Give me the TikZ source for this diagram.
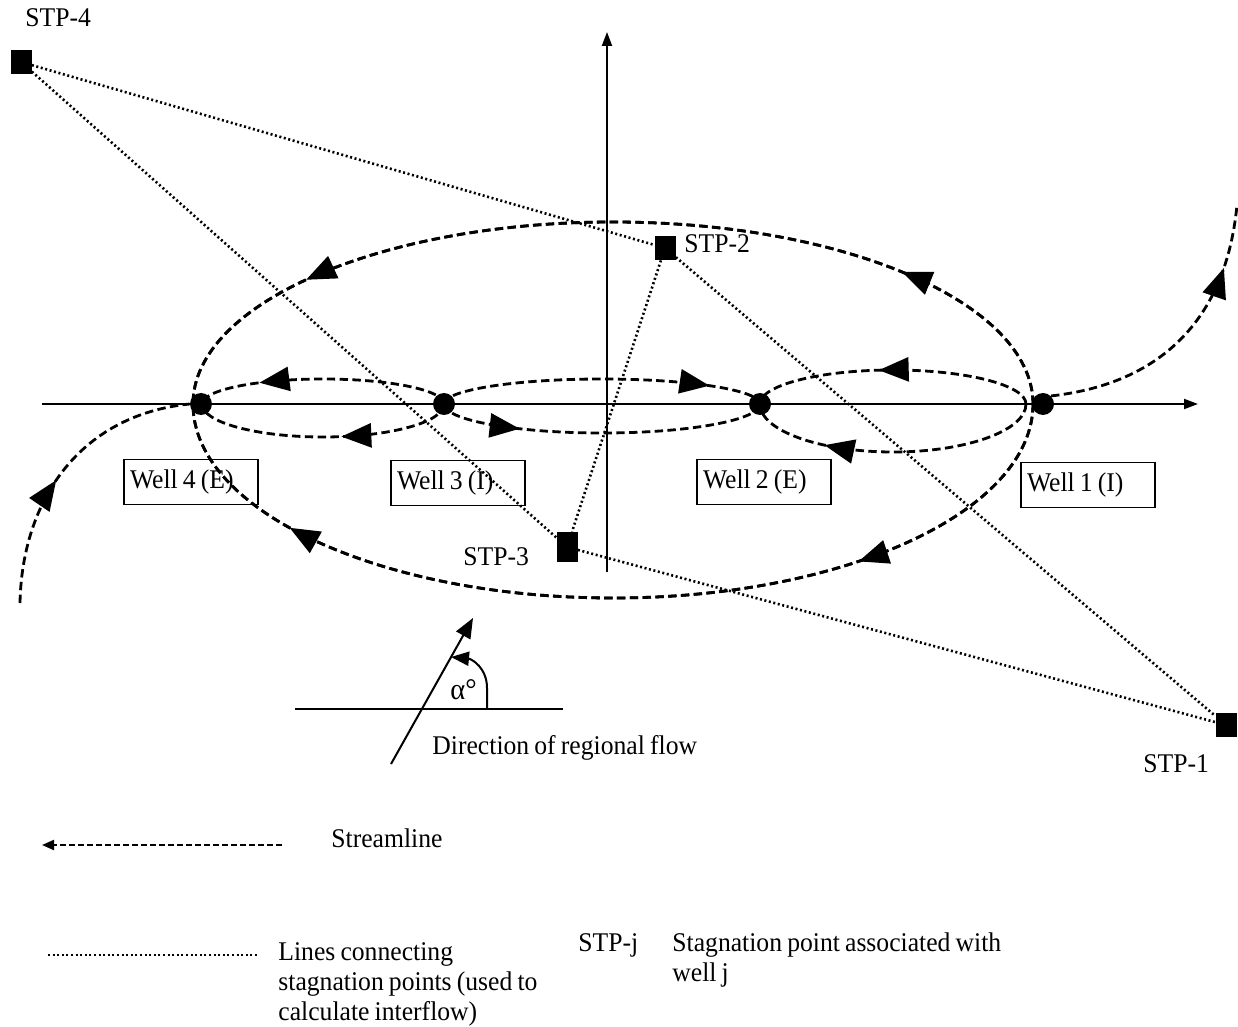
\documentclass[tikz,border=0pt]{standalone}
\usepackage{fontspec}
\setmainfont{Liberation Serif}[FakeStretch=0.95, WordSpace=0.8]
\usetikzlibrary{arrows.meta}
\usetikzlibrary{decorations.markings}
\usetikzlibrary{positioning}

\tikzset{
    stream/.style = {line width=1.4pt, dash pattern=on 4.2pt off 2.2pt},
    link/.style = {line width=1.3pt, dash pattern=on 1pt off 1.3pt},
    axis/.style = {line width=1pt, -{Triangle[length=7pt,width=5pt]}},
    well/.style = {circle, fill, inner sep=0pt, minimum size=11pt},
    stp/.style = {rectangle, fill, inner sep=0pt, minimum width=10.5pt, minimum height=12pt},
    wellbox/.style = {draw, line width=0.9pt, text width=61pt, align=flush left,
                      inner xsep=3pt, minimum height=22.5pt},
    flowmark/.style = {postaction={decorate}, decoration={markings,
        mark=at position #1 with {\arrow{Triangle[length=15pt,width=12pt]}}}},
    lbl/.style = {anchor=base west, inner sep=0pt},
}

\begin{document}
\begin{tikzpicture}[x=0.5pt, y=-0.5pt, font=\fontsize{13.5}{15}\selectfont]
    \useasboundingbox (0,0) rectangle (1238,1027);

    % axes
    \draw[axis] (42,404) -- (1198,404);
    \draw[axis] (607,572) -- (607,32);

    % wells and their boxes
    \node[well] (w4) at (201,404) {};
    \node[well] (w3) at (444,404) {};
    \node[well] (w2) at (760,404) {};
    \node[well] (w1) at (1043,404) {};
    \node[wellbox] (b4) at (191,482) {Well 4 (E)};
    \node[wellbox] (b3) at (458,483) {Well 3 (I)};
    \node[wellbox] (b2) at (764,482) {Well 2 (E)};
    \node[wellbox] (b1) at (1088,485) {Well 1 (I)};

    % stagnation points
    \node[stp] (s4) at (21,62) {};
    \node[stp] (s2) at (665,248) {};
    \node[stp, minimum height=15pt] (s3) at (567,547) {};
    \node[stp] (s1) at (1226,725) {};
    \node[lbl] (l4) at (25,27) {STP-4};
    \node[lbl] (l2) at (684,253) {STP-2};
    \node[lbl] (l3) at (463,565) {STP-3};
    \node[lbl] (l1) at (1143,772) {STP-1};

    \coordinate (c1) at (1026,404);
    \coordinate (big) at (1033,404);
    \coordinate (lowleft) at (20,603);
    \coordinate (upright) at (1237,205);

    % streamlines between neighbouring wells
    \draw[stream, flowmark=0.75] (w3.center) arc[start angle=0, end angle=-180, x radius=121, y radius=25];
    \draw[stream, flowmark=0.43] (w3.center) arc[start angle=0, end angle=180, x radius=121, y radius=33];
    \draw[stream, flowmark=0.83] (w3.center) arc[start angle=180, end angle=360, x radius=158, y radius=25];
    \draw[stream, flowmark=0.25] (w3.center) arc[start angle=180, end angle=0, x radius=158, y radius=29];
    \draw[stream, flowmark=0.55] (c1) arc[start angle=0, end angle=-180, x radius=133, y radius=34];
    \draw[stream, flowmark=0.73] (c1) arc[start angle=0, end angle=180, x radius=133, y radius=48];

    % outer streamlines
    \draw[stream, flowmark=0.2] (big) arc[start angle=0, end angle=-180, x radius=420, y radius=182];
    \draw[stream, flowmark=0.82] (big) arc[start angle=0, end angle=-180, x radius=420, y radius=182];
    \draw[stream, flowmark=0.25] (big) arc[start angle=0, end angle=180, x radius=420, y radius=194];
    \draw[stream, flowmark=0.835] (big) arc[start angle=0, end angle=180, x radius=420, y radius=194];
    \draw[stream, flowmark=0.45] (lowleft) .. controls (22,500) and (80,415) .. (w4.west);
    \draw[stream, flowmark=0.78] (w1.north east) .. controls (1150,385) and (1225,330) .. (upright);

    % lines connecting stagnation points
    \draw[link] (s4) -- (s2);
    \draw[link] (s4) -- (s3);
    \draw[link] (s2) -- (s3);
    \draw[link] (s2) -- (s1);
    \draw[link] (s3) -- (s1);

    % regional flow
    \draw[line width=1pt] (295,709) -- (563,709);
    \draw[line width=1pt, -{Triangle[length=10pt,width=8pt]}] (391,764) -- (473,618);
    \draw[line width=1pt, -{Triangle[length=9pt,width=7pt]}] (487,709) -- (487,688)
        .. controls (487,668) and (472,659) .. (451,657);
    \node[lbl, font=\fontsize{15}{15}\selectfont] (alpha) at (450,699) {α°};
    \node[lbl] (dir) at (432,754) {Direction of regional flow};

    % legend
    \draw[stream, line width=1pt, dash pattern=on 3pt off 1.5pt,
          -{Triangle[length=6pt,width=5pt]}] (282,845) -- (42,845);
    \node[lbl] (ls) at (331,847) {Streamline};
    \draw[link] (48,955) -- (258,955);
    \node[anchor=north west, inner sep=0pt, align=left] (ll) at (278,942)
        {Lines connecting\\stagnation points (used to\\calculate interflow)};
    \node[lbl] (lj) at (578,951) {STP-j};
    \node[anchor=north west, inner sep=0pt, align=left] (lw) at (672,932)
        {Stagnation point associated with\\well j};
\end{tikzpicture}
\end{document}
